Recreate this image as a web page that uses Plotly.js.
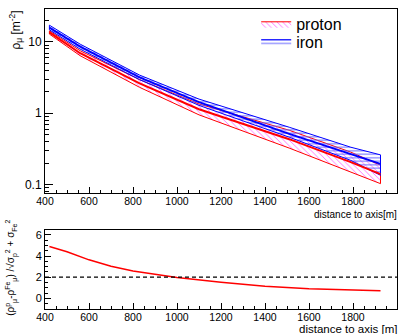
<!DOCTYPE html>
<html><head><meta charset="utf-8">
<script src="https://cdn.plot.ly/plotly-3.0.1.min.js"></script>
<style>html,body{margin:0;padding:0;background:#fff}#chart{width:408px;height:334px}</style>
</head><body><div id="chart"></div>
<script>
const distance = [420, 560, 830, 1100, 1510, 1790, 1925];
const ironHigh = [17.2, 9.31, 3.43, 1.58, 0.637, 0.334, 0.261];
const ironMean = [15.9, 8.6, 3.19, 1.43, 0.513, 0.27, 0.195];
const ironLow = [14.8, 7.93, 2.96, 1.29, 0.462, 0.218, 0.135];
const protonHigh = [14.3, 7.53, 2.96, 1.35, 0.578, 0.285, 0.187];
const protonMean = [13.6, 6.95, 2.63, 1.14, 0.433, 0.206, 0.140];
const protonLow = [12.9, 6.41, 2.31, 0.95, 0.325, 0.150, 0.103];

const ratioDistance = [420, 500, 600, 700, 800, 900, 1000, 1200, 1400, 1600, 1800, 1925];
const ratioValue = [4.9, 4.4, 3.64, 3.03, 2.58, 2.24, 1.97, 1.52, 1.15, 0.91, 0.79, 0.73];
const threshold = 2;

const FONT = 'Liberation Sans, Arial, Helvetica, sans-serif';
function band(x, lo, hi) {
  return {xs: x.concat(x.slice().reverse(), [x[0]]), ys: lo.concat(hi.slice().reverse(), [lo[0]])};
}
const pb = band(distance, protonLow, protonHigh);
const ib = band(distance, ironLow, ironHigh);

const traces = [
  {x: pb.xs, y: pb.ys, type: 'scatter', mode: 'lines', fill: 'toself', name: 'proton', legend: 'legend',
   line: {color: '#ff0000', width: 1}, fillcolor: 'rgba(0,0,0,0)',
   fillpattern: {shape: '\\', fgcolor: '#ff66ff', bgcolor: 'rgba(0,0,0,0)', size: 4, solidity: 0.22},
   xaxis: 'x', yaxis: 'y', hoverinfo: 'skip'},
  {x: ib.xs, y: ib.ys, type: 'scatter', mode: 'lines', fill: 'toself', name: 'iron', legend: 'legend2',
   line: {color: '#0000ff', width: 1}, fillcolor: 'rgba(0,0,0,0)',
   fillpattern: {shape: '-', fgcolor: '#6060ff', bgcolor: 'rgba(0,0,0,0)', size: 3.5, solidity: 0.28},
   xaxis: 'x', yaxis: 'y', hoverinfo: 'skip'},
  {x: distance, y: protonMean, type: 'scatter', mode: 'lines', showlegend: false,
   line: {color: '#ff0000', width: 2}, xaxis: 'x', yaxis: 'y'},
  {x: distance, y: ironMean, type: 'scatter', mode: 'lines', showlegend: false,
   line: {color: '#0000ff', width: 2}, xaxis: 'x', yaxis: 'y'},
  {x: ratioDistance, y: ratioValue, type: 'scatter', mode: 'lines', showlegend: false,
   line: {color: '#ff0000', width: 1.5}, xaxis: 'x2', yaxis: 'y2'},
  {x: [400, 2000], y: [threshold, threshold], type: 'scatter', mode: 'lines', showlegend: false,
   line: {color: '#000000', width: 1.2, dash: '4px,3px'}, xaxis: 'x2', yaxis: 'y2'}
];

const axCommon = {showline: true, linecolor: '#000', linewidth: 1, mirror: true,
  ticks: 'inside', tickcolor: '#000', showgrid: false, zeroline: false,
  tickfont: {family: FONT, size: 11, color: '#000'}};

const legCommon = {xanchor: 'left', yanchor: 'middle', bgcolor: 'rgba(0,0,0,0)',
  font: {family: FONT, size: 16}, itemwidth: 30};

// plot area: top px 7, bottom px 309 (height 302)
const PB = 309, PH = 302;
const py = px => (PB - px) / PH;

const layout = {
  width: 408, height: 334,
  margin: {l: 45, r: 11, t: 7, b: 334 - PB},
  paper_bgcolor: '#fff', plot_bgcolor: '#fff',
  font: {family: FONT, color: '#000'},
  showlegend: true,
  legend: Object.assign({}, legCommon, {x: 0.6, y: py(22)}),
  legend2: Object.assign({}, legCommon, {x: 0.6, y: py(40)}),
  xaxis: Object.assign({}, axCommon, {domain: [0, 1], anchor: 'y', range: [400, 2000],
    dtick: 200, tick0: 0, ticklen: 6, ticklabelstandoff: -2, tickfont: {family: FONT, size: 10.5, color: '#000'},
    minor: {dtick: 50, ticklen: 3, ticks: 'inside', tickcolor: '#000'}}),
  yaxis: Object.assign({}, axCommon, {domain: [py(192.7), 1], anchor: 'x', type: 'log',
    range: [Math.log10(0.075), Math.log10(29)], tickvals: [0.1, 1, 10], ticktext: ['0.1', '1', '10'],
    ticklen: 8, tickfont: {family: FONT, size: 12, color: '#000'},
    minor: {tickvals: [0.08,0.09,0.2,0.3,0.4,0.5,0.6,0.7,0.8,0.9,2,3,4,5,6,7,8,9,20], ticklen: 4, ticks: 'inside', tickcolor: '#000'}}),
  xaxis2: Object.assign({}, axCommon, {domain: [0, 1], anchor: 'y2', range: [400, 2000],
    dtick: 200, tick0: 0, ticklen: 6, ticklabelstandoff: -2, tickfont: {family: FONT, size: 10.5, color: '#000'},
    minor: {dtick: 50, ticklen: 3, ticks: 'inside', tickcolor: '#000'}}),
  yaxis2: Object.assign({}, axCommon, {domain: [0, py(229)], anchor: 'x2', range: [-1, 6.5],
    dtick: 2, tick0: 0, ticklen: 6, minor: {dtick: 0.5, ticklen: 3, ticks: 'inside', tickcolor: '#000'}}),
  annotations: [
    {text: 'distance to axis[m]', xref: 'paper', yref: 'paper', x: 1.005, y: py(192.7), xanchor: 'right', yanchor: 'top',
     yshift: -14, showarrow: false, font: {family: FONT, size: 10}},
    {text: 'distance to axis [m]', xref: 'paper', yref: 'paper', x: 1.005, y: 0, xanchor: 'right', yanchor: 'top',
     yshift: -12, showarrow: false, font: {family: FONT, size: 11.5}},
    {text: 'ρ<sub>μ</sub> [m<sup>-2</sup>]', xref: 'paper', yref: 'paper', x: -0.085, y: 1, xanchor: 'center', yanchor: 'top',
     textangle: -90, showarrow: false, font: {family: FONT, size: 12}},
    {text: '(ρ<sup>p</sup><sub>μ</sub>-ρ<sup>Fe</sup><sub>μ</sub>) /√σ<sub>p</sub><sup>2</sup> + σ<sub>Fe</sub><sup>2</sup>',
     xref: 'paper', yref: 'paper', x: -0.095, y: py(268), xanchor: 'center', yanchor: 'middle',
     textangle: -90, showarrow: false, font: {family: FONT, size: 10}}
  ]
};

Plotly.newPlot('chart', traces, layout, {staticPlot: true, displayModeBar: false});
</script>
</body></html>
